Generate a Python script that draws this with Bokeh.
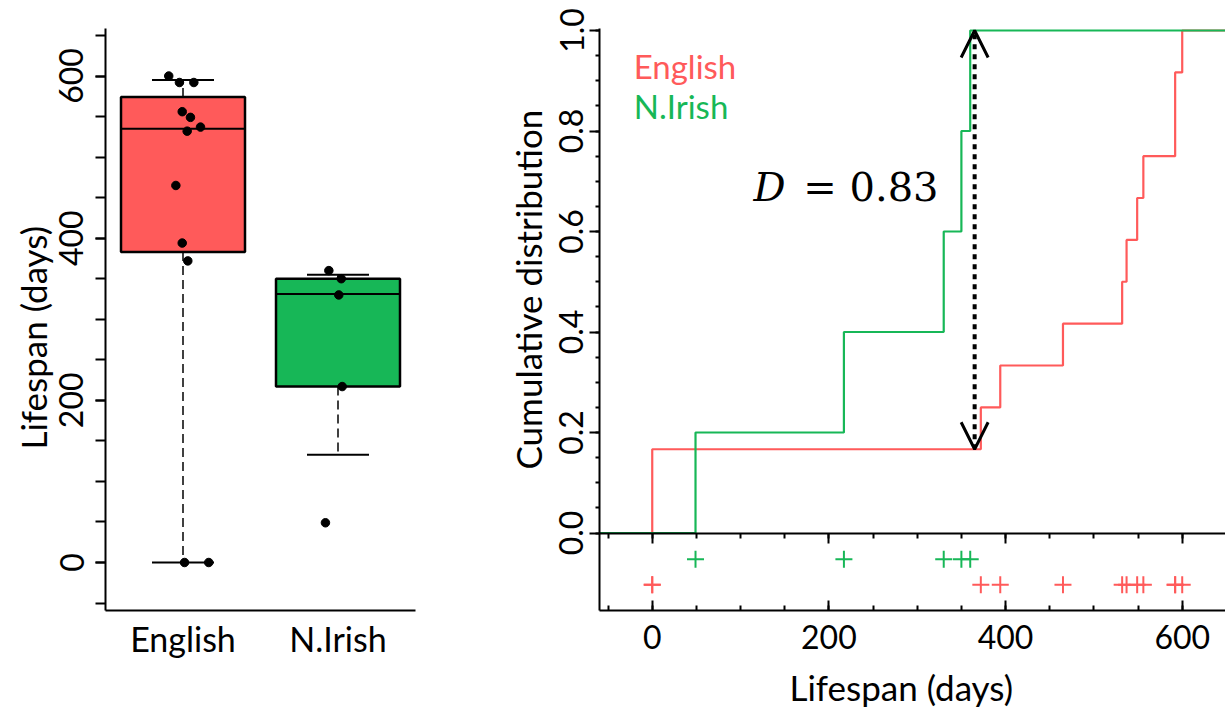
import numpy as np
from bokeh.plotting import figure
from bokeh.layouts import row
from bokeh.models import (Range1d, FixedTicker, LinearAxis, Label, Arrow, OpenHead, Title,
                          PrintfTickFormatter, CustomJSTickFormatter)
from bokeh.embed import file_html
from bokeh.resources import INLINE

# ---------------- data ----------------
groups = ["English", "N.Irish"]
group_pos = [1, 2]
english = [0, 0, 372, 394, 465, 532, 537, 549, 556, 592, 592, 600]
english_jitter = [1.010, 1.166, 1.031, 0.995, 0.954, 1.027, 1.113, 1.048, 0.995, 0.977, 1.070, 0.908]
nirish = [49, 217, 330, 350, 360]
nirish_jitter = [1.919, 2.027, 2.005, 2.021, 1.941]

# box statistics: lower whisker, Q1, median, Q3, upper whisker
box_lower = [0, 133]
box_q1 = [383, 217]
box_median = [535, 331]
box_q3 = [574, 350]
box_upper = [595, 355]

left_major = [0, 200, 400, 600]
left_minor = list(range(-50, 701, 50))
ecdf_major_y = [0.0, 0.2, 0.4, 0.6, 0.8, 1.0]
ecdf_minor_y = [round(i * 0.05, 2) for i in range(21)]
x_major = [0, 200, 400, 600]
x_minor = list(range(-50, 651, 50))

D_x = 365

RED = "#FF5A5A"
GREEN = "#17B757"
colors = [RED, GREEN]
FONT = "Lato"
TICK_FS = "32px"
CAT_FS = "34px"
TITLE_FS = "35px"

# ---------------- left panel: box plot ----------------
p1 = figure(width=440, height=719, x_range=Range1d(0.5, 2.5), y_range=Range1d(-59.2, 658.6),
            output_backend="svg", toolbar_location=None,
            min_border_left=105, min_border_right=25, min_border_top=28, min_border_bottom=109)
p1.grid.visible = False
p1.outline_line_color = None

xs = np.array(group_pos, dtype=float)
hw = 0.4
cw = 0.2
# whiskers
p1.segment(x0=xs, x1=xs, y0=box_q3, y1=box_upper, line_color="black", line_width=1.5, line_dash="9 5")
p1.segment(x0=xs, x1=xs, y0=box_q1, y1=box_lower, line_color="black", line_width=1.5, line_dash="9 5")
p1.segment(x0=xs - cw, x1=xs + cw, y0=box_upper, y1=box_upper, line_color="black", line_width=2)
p1.segment(x0=xs - cw, x1=xs + cw, y0=box_lower, y1=box_lower, line_color="black", line_width=2)
# boxes
p1.vbar(x=xs, width=0.8, bottom=box_q1, top=box_q3, fill_color=colors, line_color="black", line_width=2.5)
p1.segment(x0=xs - hw, x1=xs + hw, y0=box_median, y1=box_median, line_color="black", line_width=2)
# points
p1.scatter(english_jitter, english, size=8.5, color="black")
p1.scatter(nirish_jitter, nirish, size=8.5, color="black")

p1.xaxis.ticker = FixedTicker(ticks=group_pos)
p1.xaxis.major_label_overrides = {1: groups[0], 2: groups[1]}
p1.xaxis.major_tick_out = 0
p1.xaxis.major_tick_in = 0
p1.xaxis.minor_tick_out = 0
p1.xaxis.major_label_standoff = 7
p1.xaxis.axis_line_width = 2

p1.yaxis.ticker = FixedTicker(ticks=left_major, minor_ticks=left_minor)
p1.yaxis.major_tick_out = 10
p1.yaxis.minor_tick_out = 10
p1.yaxis.major_tick_in = 0
p1.yaxis.minor_tick_in = 0
p1.yaxis.major_tick_line_width = 2
p1.yaxis.minor_tick_line_width = 2
p1.yaxis.axis_line_width = 2
p1.yaxis.major_label_orientation = "vertical"
p1.yaxis.major_label_standoff = 12

for ax in [p1.xaxis[0], p1.yaxis[0]]:
    ax.major_label_text_font = FONT
    ax.major_label_text_font_size = TICK_FS
    ax.major_label_text_color = "black"
p1.xaxis.major_label_text_font_size = CAT_FS

p1.add_layout(Title(text="Lifespan (days)", align="left", offset=161, standoff=6,
                    text_font=FONT, text_font_size=TITLE_FS, text_font_style="normal",
                    text_color="black"), "left")

# ---------------- right panel: ECDF + rug ----------------
p2 = figure(width=785, height=719, x_range=Range1d(-59.7, 649), y_range=Range1d(-0.1542, 1.004),
            output_backend="svg", toolbar_location=None,
            min_border_left=159, min_border_right=0, min_border_top=25, min_border_bottom=108)
p2.grid.visible = False
p2.outline_line_color = None


def ecdf(vals, lo, hi):
    v = np.sort(np.asarray(vals, dtype=float))
    u = np.unique(v)
    f = [float(np.sum(v <= t)) / len(v) for t in u]
    return [lo] + list(u) + [hi], [0.0] + f + [1.0]


ex, ey = ecdf(english, -200, 900)
nx, ny = ecdf(nirish, -200, 900)
p2.step(ex, ey, mode="after", line_color=RED, line_width=2.2)
p2.step(nx, ny, mode="after", line_color=GREEN, line_width=2.2)

# D arrow
f_eng = float(np.sum(np.array(english) <= D_x)) / len(english)
f_nir = float(np.sum(np.array(nirish) <= D_x)) / len(nirish)
p2.add_layout(Arrow(x_start=D_x, y_start=f_eng, x_end=D_x, y_end=f_nir,
                    line_width=4, line_dash="5 5", line_color="black",
                    start=OpenHead(size=27, line_width=3),
                    end=OpenHead(size=27, line_width=3)))

# rug
p2.scatter(nirish, [-0.052] * len(nirish), marker="cross", size=17, line_width=2, color=GREEN)
p2.scatter(english, [-0.103] * len(english), marker="cross", size=17, line_width=2, color=RED)

# legend text
p2.add_layout(Label(x=-21, y=0.929, text=groups[0], text_color=RED, text_font=FONT,
                    text_font_size="33px", text_baseline="alphabetic"))
p2.add_layout(Label(x=-21, y=0.850, text=groups[1], text_color=GREEN, text_font=FONT,
                    text_font_size="33px", text_baseline="alphabetic"))
# D = 0.83
p2.add_layout(Label(x=114.7, y=0.688, text="D", text_font="DejaVu Serif", text_font_style="italic",
                    text_font_size="40px", text_baseline="alphabetic", text_color="black"))
p2.add_layout(Label(x=171, y=0.688, text="= 0.83", text_font="DejaVu Serif",
                    text_font_size="40px", text_baseline="alphabetic", text_color="black"))

p2.xaxis.ticker = FixedTicker(ticks=x_major, minor_ticks=x_minor)
p2.xaxis.major_tick_in = 10
p2.xaxis.major_tick_out = 0
p2.xaxis.minor_tick_in = 5
p2.xaxis.minor_tick_out = 0
p2.xaxis.major_label_standoff = 14

p2.yaxis.ticker = FixedTicker(ticks=ecdf_major_y, minor_ticks=ecdf_minor_y)
p2.yaxis.formatter = PrintfTickFormatter(format="%.1f")
p2.yaxis.major_tick_out = 10
p2.yaxis.minor_tick_out = 4
p2.yaxis.major_tick_in = 0
p2.yaxis.minor_tick_in = 0
p2.yaxis.major_label_orientation = "vertical"
p2.yaxis.major_label_standoff = 6

top_rug = LinearAxis(fixed_location=0, ticker=FixedTicker(ticks=x_major, minor_ticks=x_minor),
                     formatter=CustomJSTickFormatter(code="return ''"),
                     major_tick_out=10, major_tick_in=0, minor_tick_out=5, minor_tick_in=0)
p2.add_layout(top_rug, "below")

for ax in [p2.xaxis[0], p2.yaxis[0], top_rug]:
    ax.axis_line_width = 2
    ax.major_tick_line_width = 2
    ax.minor_tick_line_width = 2
    ax.major_label_text_font = FONT
    ax.major_label_text_font_size = TICK_FS
    ax.major_label_text_color = "black"

p2.add_layout(Title(text="Cumulative distribution", align="left", offset=141, standoff=16,
                    text_font=FONT, text_font_size=TITLE_FS, text_font_style="normal",
                    text_color="black"), "left")
p2.add_layout(Title(text="Lifespan (days)", align="left", offset=190, standoff=24,
                    text_font=FONT, text_font_size=TITLE_FS, text_font_style="normal",
                    text_color="black"), "below")

layout = row(p1, p2)
open("out.html", "w").write(file_html(layout, INLINE))
